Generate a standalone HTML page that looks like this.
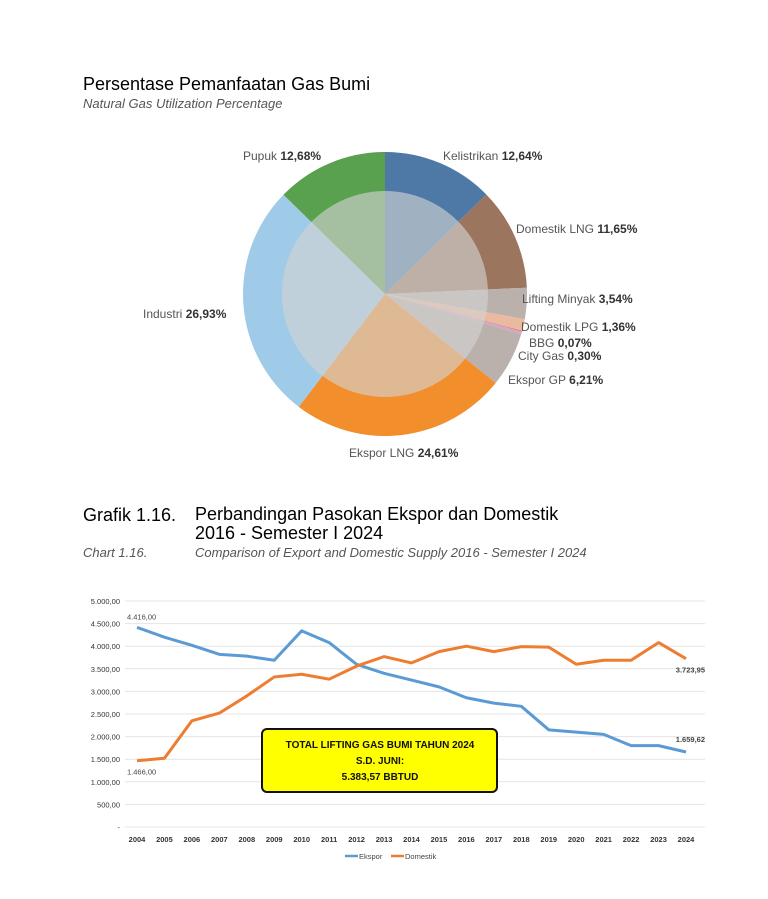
<!DOCTYPE html>
<html><head><meta charset="utf-8"><style>
body{margin:0;background:#fff;width:768px;height:899px;overflow:hidden;font-family:"Liberation Sans",sans-serif}
.t{position:absolute;white-space:nowrap}
</style></head><body>
<div class="t" style="left:83px;top:74px;font-size:18px;color:#000">Persentase Pemanfaatan Gas Bumi</div>
<div class="t" style="left:83px;top:96px;font-size:13px;font-style:italic;color:#555">Natural Gas Utilization Percentage</div>
<svg id="pie" width="768" height="480" style="position:absolute;left:0;top:0"></svg>
<div class="t" style="left:83px;top:505px;font-size:18px;color:#000">Grafik 1.16.</div>
<div class="t" style="left:195px;top:505px;font-size:18px;color:#000;line-height:19px">Perbandingan Pasokan Ekspor dan Domestik<br>2016 - Semester I 2024</div>
<div class="t" style="left:83px;top:545px;font-size:13px;font-style:italic;color:#555">Chart 1.16.</div>
<div class="t" style="left:195px;top:545px;font-size:13px;font-style:italic;color:#555">Comparison of Export and Domestic Supply 2016 - Semester I 2024</div>
<svg id="line" width="768" height="899" style="position:absolute;left:0;top:0"></svg>
<script>
const pieNames=["Kelistrikan","Domestik LNG","Lifting Minyak","Domestik LPG","BBG","City Gas","Ekspor GP","Ekspor LNG","Industri","Pupuk"];
const pieValues=[12.64,11.65,3.54,1.36,0.07,0.30,6.21,24.61,26.93,12.68];
const pieLabels=["12,64%","11,65%","3,54%","1,36%","0,07%","0,30%","6,21%","24,61%","26,93%","12,68%"];
const pieColors=["#4e79a7","#9c755f","#bab0ac","#e9b9a0","#e15759","#d4a6c8","#bab0ac","#f28e2b","#a0cbe8","#59a14f"];
const labelPos=[[443,160],[516,233],[522,303],[521,331],[529,347],[518,360],[508,384],[349,457],[143,318],[243,160]];
const NS="http://www.w3.org/2000/svg";
const pie=document.getElementById('pie');
const cx=385,cy=294,R=142,r=103;
const tot=pieValues.reduce((a,b)=>a+b,0);
let a0=0;
function pt(a,rad){return [cx+rad*Math.sin(a),cy-rad*Math.cos(a)];}
pieValues.forEach((v,i)=>{
 const a1=a0+v/tot*2*Math.PI;
 const p0=pt(a0,R),p1=pt(a1,R);
 const p=document.createElementNS(NS,'path');
 p.setAttribute('d',`M${cx},${cy}L${p0[0]},${p0[1]}A${R},${R} 0 ${a1-a0>Math.PI?1:0} 1 ${p1[0]},${p1[1]}Z`);
 p.setAttribute('fill',pieColors[i]);
 
 
 pie.appendChild(p);a0=a1;
});
const ov=document.createElementNS(NS,'circle');
ov.setAttribute('cx',cx);ov.setAttribute('cy',cy);ov.setAttribute('r',r);ov.setAttribute('fill','rgba(212,212,212,0.62)');


pie.appendChild(ov);
pieNames.forEach((n,i)=>{
 const t=document.createElementNS(NS,'text');
 t.setAttribute('x',labelPos[i][0]);t.setAttribute('y',labelPos[i][1]);
 t.setAttribute('font-size','12');t.setAttribute('fill','#555');
 t.innerHTML=n+' <tspan fill="#333" font-weight="bold">'+pieLabels[i]+'</tspan>';
 
 
 pie.appendChild(t);
});

const years=[2004,2005,2006,2007,2008,2009,2010,2011,2012,2013,2014,2015,2016,2017,2018,2019,2020,2021,2022,2023,2024];
const ekspor=[4416,4200,4020,3820,3780,3690,4340,4080,3600,3400,3250,3100,2860,2740,2670,2150,2100,2050,1800,1800,1659.62];
const domestik=[1466,1520,2350,2520,2900,3320,3380,3270,3560,3770,3630,3880,4000,3880,3990,3980,3600,3690,3690,4080,3723.95];
const yTicks=[0,500,1000,1500,2000,2500,3000,3500,4000,4500,5000];
const yTickLabels=["-","500,00","1.000,00","1.500,00","2.000,00","2.500,00","3.000,00","3.500,00","4.000,00","4.500,00","5.000,00"];
const L=document.getElementById('line');
const xs=i=>137+i*(686-137)/(years.length-1);
const ys=v=>827-v*(827-601)/5000;
function el(tag,attrs,name,txt){const e=document.createElementNS(NS,tag);for(const k in attrs)e.setAttribute(k,attrs[k]);
 
 
 if(txt!==undefined)e.textContent=txt;L.appendChild(e);return e;}
yTicks.forEach((v,i)=>{
 el('line',{x1:125,x2:705,y1:ys(v),y2:ys(v),stroke:'#e4e4e4','stroke-width':1},'gridline');
 el('text',{x:120,y:ys(v)+3,'font-size':7.5,fill:'#333','text-anchor':'end'},'y-tick-label',yTickLabels[i]);
});
years.forEach((y,i)=>el('text',{x:xs(i),y:842,'font-size':7.5,fill:'#333','font-weight':'bold','text-anchor':'middle'},'x-tick-label',y));
function poly(d,c,n){el('polyline',{points:d.map((v,i)=>xs(i)+','+ys(v)).join(' '),fill:'none',stroke:c,'stroke-width':3,'stroke-linejoin':'round'},n);}
poly(ekspor,'#5b9bd5','ekspor-line');poly(domestik,'#ed7d31','domestik-line');
el('text',{x:xs(0)-10,y:ys(ekspor[0])-8,'font-size':7.5,fill:'#444'},'ekspor-start-label','4.416,00');
el('text',{x:xs(0)-10,y:ys(domestik[0])+14,'font-size':7.5,fill:'#444'},'domestik-start-label','1.466,00');
el('text',{x:705,y:ys(ekspor[20])-10,'font-size':7.5,fill:'#444','text-anchor':'end','font-weight':'bold'},'ekspor-end-label','1.659,62');
el('text',{x:705,y:ys(domestik[20])+14,'font-size':7.5,fill:'#444','text-anchor':'end','font-weight':'bold'},'domestik-end-label','3.723,95');
el('rect',{x:262,y:729,width:235,height:63,rx:5,fill:'#ffff00',stroke:'#111','stroke-width':2},'total-lifting-box');
el('text',{x:380,y:748,'font-size':10,'font-weight':'bold','text-anchor':'middle',fill:'#111'},'total-lifting-text','TOTAL LIFTING GAS BUMI TAHUN 2024');
el('text',{x:380,y:764,'font-size':10,'font-weight':'bold','text-anchor':'middle',fill:'#111'},'total-lifting-text','S.D. JUNI:');
el('text',{x:380,y:780,'font-size':10,'font-weight':'bold','text-anchor':'middle',fill:'#111'},'total-lifting-value','5.383,57 BBTUD');
el('line',{x1:345,x2:358,y1:856,y2:856,stroke:'#5b9bd5','stroke-width':2.5},'legend-ekspor-swatch');
el('text',{x:359,y:859,'font-size':7.5,fill:'#444'},'legend-ekspor','Ekspor');
el('line',{x1:391,x2:404,y1:856,y2:856,stroke:'#ed7d31','stroke-width':2.5},'legend-domestik-swatch');
el('text',{x:405,y:859,'font-size':7.5,fill:'#444'},'legend-domestik','Domestik');
</script>
</body></html>
